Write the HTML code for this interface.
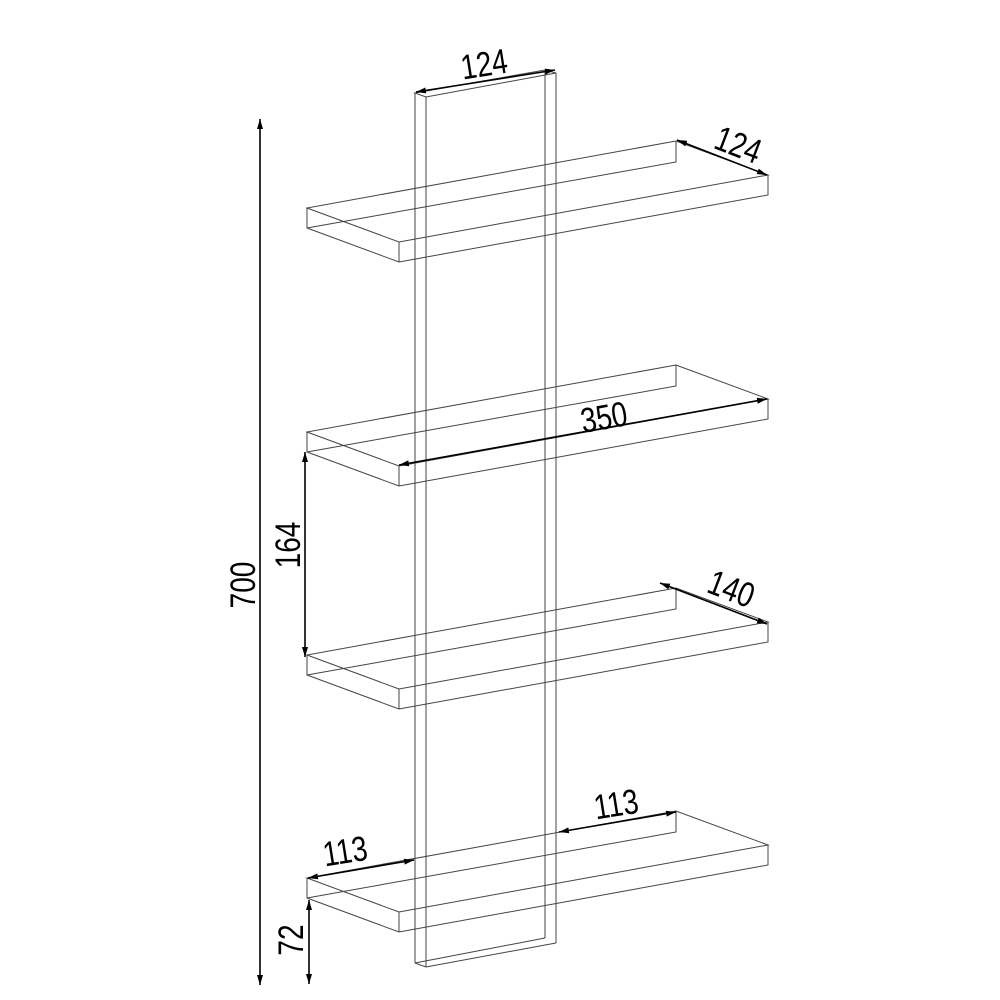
<!DOCTYPE html>
<html><head><style>html,body{margin:0;padding:0;background:#fff}svg{display:block}</style></head>
<body>
<svg width="1000" height="1000" viewBox="0 0 1000 1000" xmlns="http://www.w3.org/2000/svg">
<defs>
<marker id="a" viewBox="0 0 10 6" refX="10" refY="3" markerWidth="10" markerHeight="6" markerUnits="userSpaceOnUse" orient="auto-start-reverse"><path d="M0,0L10,3L0,6z" fill="#000"/></marker>
</defs>
<g fill="none" stroke="#444" stroke-width="1">
<path d="M415,93L545,70L556,73L426,97Z"/>
<path d="M415,93V963M426,97V967M545,70V938M556,73V943M415,963L426,967L556,943"/>
<path d="M415,963L545,938"/>
</g>
<g fill="none" stroke="#444" stroke-width="1">
<path d="M307,208L399,242L768,175L676,141Z M307,208V228L399,262L768,195V175 M399,242V262 M307,228L676,162V141"/>
<path transform="translate(0,224)" d="M307,208L399,242L768,175L676,141Z M307,208V228L399,262L768,195V175 M399,242V262 M307,228L676,162V141"/>
<path transform="translate(0,447)" d="M307,208L399,242L768,175L676,141Z M307,208V228L399,262L768,195V175 M399,242V262 M307,228L676,162V141"/>
<path transform="translate(0,670)" d="M307,208L399,242L768,175L676,141Z M307,208V228L399,262L768,195V175 M399,242V262 M307,228L676,162V141"/>
</g>
<g stroke="#000" stroke-width="1.6" fill="none">
<line x1="416" y1="92" x2="555" y2="70" marker-start="url(#a)" marker-end="url(#a)"/>
<line x1="677" y1="140" x2="767" y2="175" marker-start="url(#a)" marker-end="url(#a)"/>
<line x1="399" y1="465" x2="767" y2="399" marker-start="url(#a)" marker-end="url(#a)"/>
<line x1="660" y1="583" x2="767" y2="624" marker-start="url(#a)" marker-end="url(#a)"/>
<line x1="305" y1="452" x2="305" y2="657" marker-start="url(#a)" marker-end="url(#a)"/>
<line x1="260" y1="119" x2="260" y2="985" marker-start="url(#a)" marker-end="url(#a)"/>
<line x1="308" y1="878" x2="414" y2="860" marker-start="url(#a)" marker-end="url(#a)"/>
<line x1="559" y1="832" x2="676" y2="812" marker-start="url(#a)" marker-end="url(#a)"/>
<line x1="309" y1="900" x2="309" y2="984" marker-start="url(#a)" marker-end="url(#a)"/>
</g>
<g font-family="Liberation Sans, sans-serif" font-size="35" fill="#000" text-anchor="middle">
<text transform="translate(486,76) rotate(-9) scale(0.8,1)">124</text>
<text transform="translate(734,156) rotate(21) scale(0.8,1)">124</text>
<text transform="translate(606,429) rotate(-10) scale(0.8,1)">350</text>
<text transform="translate(727,600) rotate(21) scale(0.8,1)">140</text>
<text transform="translate(300,545) rotate(-90) scale(0.8,1)">164</text>
<text transform="translate(255,585) rotate(-90) scale(0.8,1)">700</text>
<text transform="translate(347,863) rotate(-9) scale(0.8,1)">113</text>
<text transform="translate(618,816) rotate(-9) scale(0.8,1)">113</text>
<text transform="translate(303,940) rotate(-90) scale(0.8,1)">72</text>
</g>
</svg>
</body></html>
